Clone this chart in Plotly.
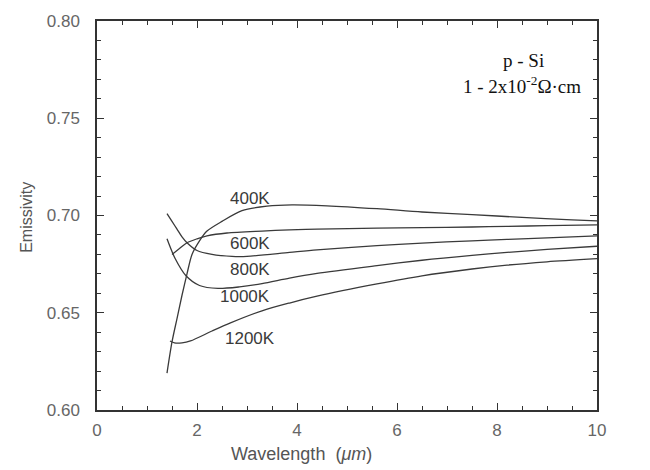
import plotly.graph_objects as go

# Wavelength (um) and emissivity values
wl_400 = [1.4, 1.5, 1.6, 1.7, 1.8, 1.9, 2.05, 2.2, 2.5, 2.9, 3.4, 3.9, 4.6, 5.6, 6.5, 7.5, 8.5, 9.5, 10.0]
em_400 = [0.619, 0.635, 0.647, 0.659, 0.670, 0.680, 0.687, 0.692, 0.697, 0.7025, 0.7048, 0.7055, 0.7050, 0.7035, 0.7018, 0.7005, 0.6990, 0.6978, 0.6972]

wl_600 = [1.5, 1.65, 1.8, 2.0, 2.2, 2.6, 3.3, 3.85, 4.4, 5.6, 6.5, 7.5, 8.2, 9.0, 10.0]
em_600 = [0.680, 0.683, 0.686, 0.688, 0.6895, 0.691, 0.692, 0.6926, 0.6930, 0.6935, 0.6938, 0.6941, 0.6944, 0.6948, 0.6952]

wl_800 = [1.4, 1.5, 1.6, 1.7, 1.8, 2.0, 2.3, 2.7, 3.0, 3.85, 4.4, 5.6, 6.5, 7.5, 8.2, 9.0, 10.0]
em_800 = [0.701, 0.697, 0.693, 0.689, 0.686, 0.682, 0.680, 0.679, 0.679, 0.681, 0.6823, 0.6845, 0.6858, 0.6870, 0.6877, 0.6885, 0.6895]

wl_1000 = [1.4, 1.56, 1.78, 2.05, 2.42, 2.85, 3.3, 3.85, 4.4, 5.6, 6.5, 7.5, 8.2, 9.0, 10.0]
em_1000 = [0.688, 0.678, 0.669, 0.664, 0.6625, 0.6633, 0.665, 0.6678, 0.6702, 0.6742, 0.6770, 0.6795, 0.6810, 0.6826, 0.6842]

wl_1200 = [1.46, 1.55, 1.7, 1.87, 2.3, 2.67, 3.3, 3.85, 4.4, 5.6, 6.5, 7.5, 8.2, 9.0, 10.0]
em_1200 = [0.6355, 0.6345, 0.6345, 0.6355, 0.6406, 0.6448, 0.6510, 0.6550, 0.6585, 0.6648, 0.6690, 0.6725, 0.6745, 0.6762, 0.6778]

series_names = ["400K", "600K", "800K", "1000K", "1200K"]
label_x = [3.5, 3.5, 3.5, 3.5, 3.6]
label_y = [0.7089, 0.6857, 0.6721, 0.6584, 0.6367]

x_ticks = [0, 2, 4, 6, 8, 10]
y_ticks = [0.60, 0.65, 0.70, 0.75, 0.80]
y_tick_text = ["0.60", "0.65", "0.70", "0.75", "0.80"]

curves = [(wl_400, em_400), (wl_600, em_600), (wl_800, em_800), (wl_1000, em_1000), (wl_1200, em_1200)]

fig = go.Figure()
for (xs, ys), name in zip(curves, series_names):
    fig.add_trace(go.Scatter(x=xs, y=ys, mode="lines", name=name,
                             line=dict(color="#3a3a3a", width=1.3, shape="spline", smoothing=0.8),
                             showlegend=False))

for name, lx, ly in zip(series_names, label_x, label_y):
    fig.add_annotation(x=lx, y=ly, text=name, showarrow=False, xanchor="right", yanchor="middle",
                       font=dict(family="Liberation Sans, Arial, sans-serif", size=17, color="#3a3a3a"))

fig.add_annotation(x=8.52, y=0.7797, text="p - Si", showarrow=False, xanchor="center", yanchor="middle",
                   font=dict(family="Liberation Serif, Times New Roman, serif", size=19, color="#111"))
fig.add_annotation(x=8.50, y=0.7671, text="1 - 2x10<sup>-2</sup>Ω·cm", showarrow=False, xanchor="center",
                   yanchor="middle",
                   font=dict(family="Liberation Serif, Times New Roman, serif", size=19, color="#111"))

# axis titles placed as in the reference
fig.add_annotation(xref="paper", yref="paper", x=0.408, y=-0.114, text="Wavelength  (<i>μm</i>)",
                   showarrow=False, xanchor="center", yanchor="middle",
                   font=dict(family="Liberation Sans, Arial, sans-serif", size=18, color="#555"))
fig.add_annotation(xref="paper", yref="paper", x=-0.14, y=0.494, text="Emissivity", textangle=-90,
                   showarrow=False, xanchor="center", yanchor="middle",
                   font=dict(family="Liberation Sans, Arial, sans-serif", size=16, color="#555"))

axis_common = dict(showline=True, linecolor="#333", linewidth=1.5, mirror="ticks",
                   ticks="inside", tickcolor="#333", showgrid=False, zeroline=False,
                   tickfont=dict(family="Liberation Sans, Arial, sans-serif", size=17, color="#666"))

fig.update_xaxes(range=[0, 10], tickvals=x_ticks, ticklen=7, ticklabelstandoff=4,
                 minor=dict(dtick=0.5, ticks="inside", ticklen=4, tickcolor="#333"),
                 **axis_common)
fig.update_yaxes(range=[0.60, 0.80], tickvals=y_ticks, ticktext=y_tick_text, ticklen=7,
                 ticklabelstandoff=12,
                 minor=dict(dtick=0.01, ticks="inside", ticklen=4, tickcolor="#333"),
                 **axis_common)

fig.update_layout(width=650, height=470, margin=dict(l=97, r=53, t=15, b=60),
                  plot_bgcolor="white", paper_bgcolor="white")

fig.write_html("out.html", config={"displayModeBar": False},
               post_script="document.body.style.margin='0';document.body.style.overflow='hidden';")
